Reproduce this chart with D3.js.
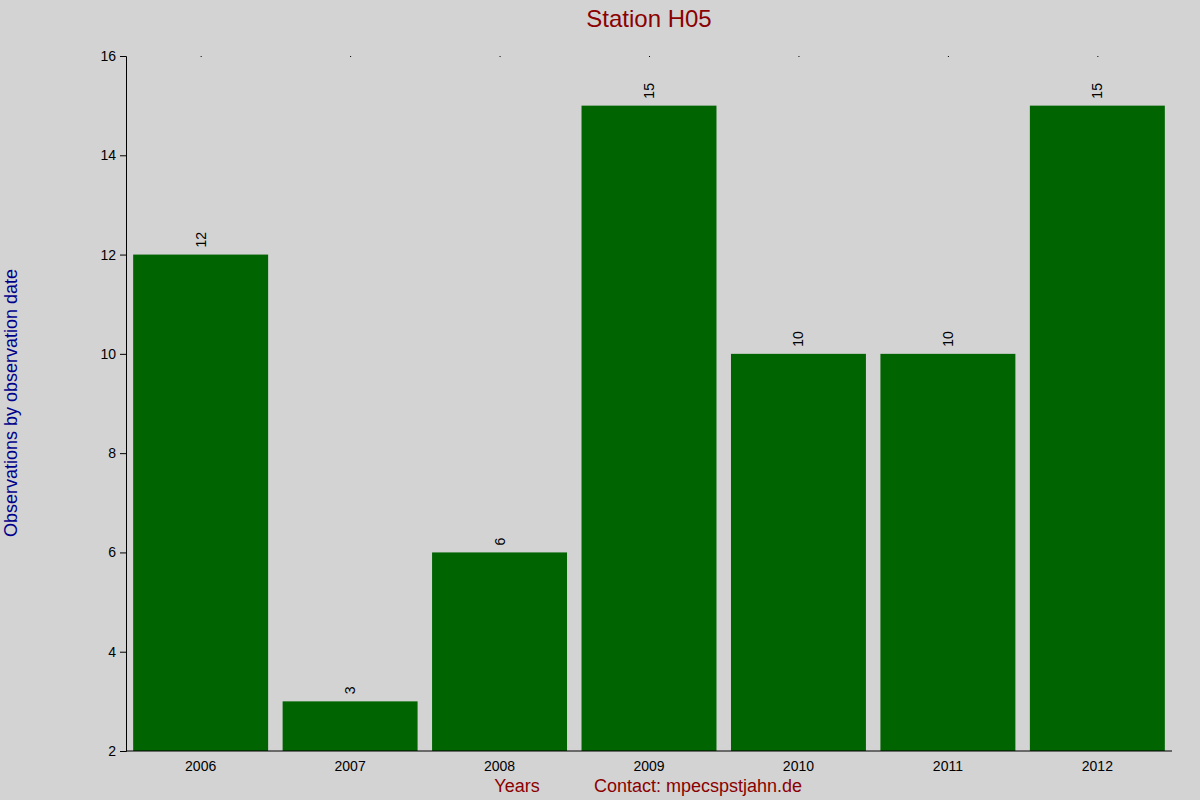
<!DOCTYPE html>
<html><head><meta charset="utf-8">
<script src="https://cdn.jsdelivr.net/npm/d3@7"></script>
<style>body{margin:0;background:#d3d3d3}text{font-family:"Liberation Sans",Arial,sans-serif}</style>
</head><body><svg id="c" width="1200" height="800"></svg>
<script>
const years = ["2006","2007","2008","2009","2010","2011","2012"];
const counts = [12,3,6,15,10,10,15];
const yTicks = [2,4,6,8,10,12,14,16];

const svg = d3.select("#c");
svg.append("rect").attr("width",1200).attr("height",800).attr("fill","#d3d3d3");
const L=126,R=1172,T=56,B=751;
const x = d3.scaleBand().domain(years).range([L,R]).paddingInner(0.097).paddingOuter(0.048);
const y = d3.scaleLinear().domain([2,16]).range([B,T]);

svg.selectAll(".bar").data(years).enter().append("rect")
  .attr("x",d=>x(d)).attr("width",x.bandwidth())
  .attr("y",(d,i)=>y(counts[i])).attr("height",(d,i)=>B-y(counts[i]))
  .attr("fill","#006400");

svg.selectAll(".lbl").data(years).enter().append("text")
  .attr("transform",(d,i)=>`translate(${x(d)+x.bandwidth()/2+5},${y(counts[i])-7}) rotate(-90)`)
  .attr("font-size",14).attr("fill","#000").text((d,i)=>counts[i]);

const ya = svg.append("g").attr("transform",`translate(${L},0)`)
  .call(d3.axisLeft(y).tickValues(yTicks).tickSize(6).tickPadding(4));
const xa = svg.append("g").attr("transform",`translate(0,${B})`)
  .call(d3.axisBottom(x).tickSize(0).tickPadding(10));
xa.select(".domain").attr("d",`M${L},0H${R}`);
[ya,xa].forEach(g=>{g.selectAll("text").attr("font-size",14).attr("fill","#000").style("font-family","Liberation Sans, Arial");g.selectAll("line,path").attr("stroke","#000");});

svg.selectAll(".dot").data(years).enter().append("rect")
  .attr("x",d=>x(d)+x.bandwidth()/2).attr("y",T).attr("width",1).attr("height",1).attr("fill","#000");

svg.append("text").attr("x",649).attr("y",27).attr("text-anchor","middle")
  .attr("font-size",24).attr("fill","#8b0000").text("Station H05");
svg.append("text").attr("transform","translate(17,403) rotate(-90)").attr("text-anchor","middle")
  .attr("font-size",18).attr("fill","#00008b").text("Observations by observation date");
svg.append("text").attr("x",517).attr("y",792).attr("text-anchor","middle")
  .attr("font-size",18).attr("fill","#8b0000").text("Years");
svg.append("text").attr("x",698).attr("y",792).attr("text-anchor","middle")
  .attr("font-size",18).attr("fill","#8b0000").text("Contact: mpecspstjahn.de");
</script></body></html>
